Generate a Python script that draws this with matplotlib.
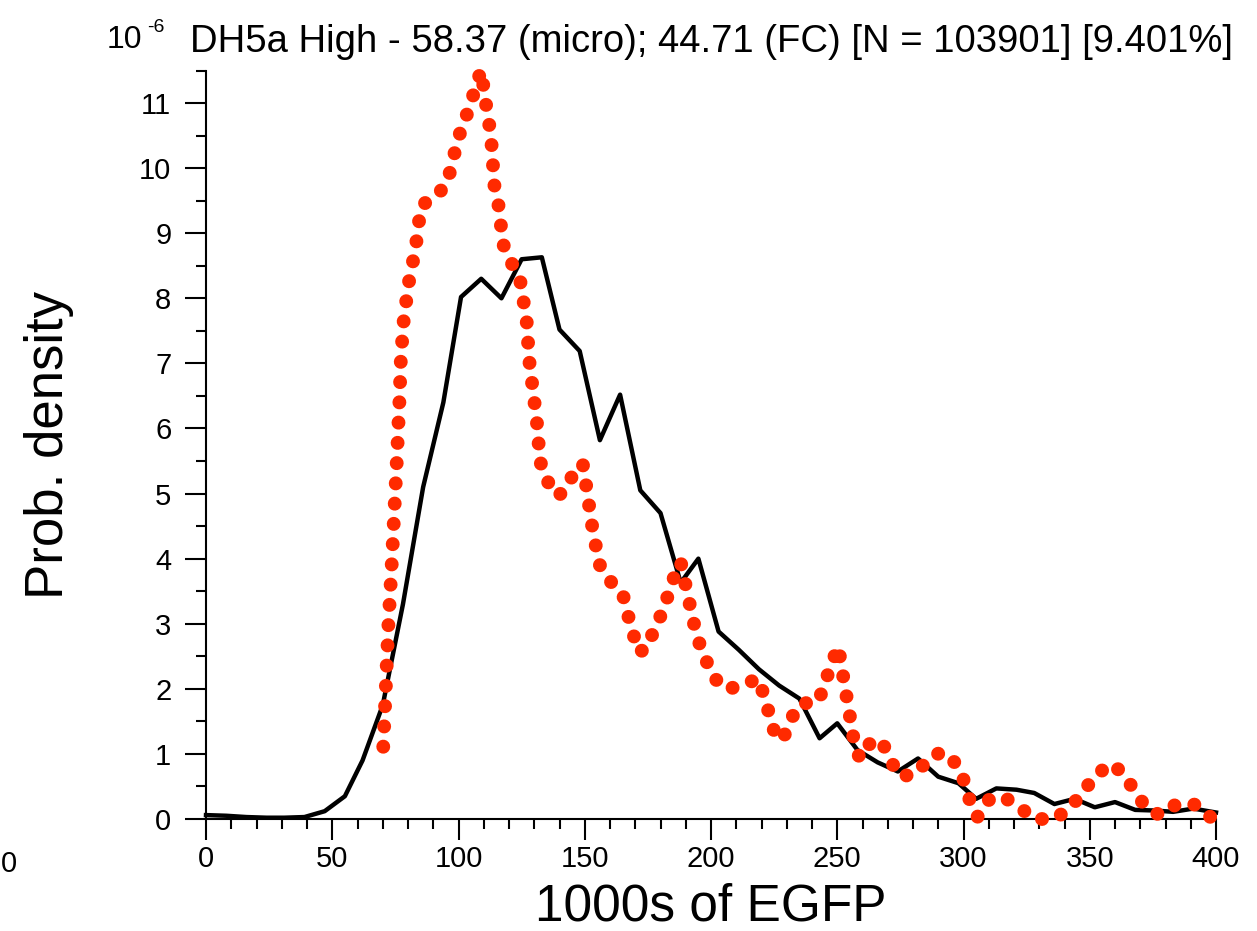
import numpy as np
import matplotlib.pyplot as plt
from matplotlib.ticker import MultipleLocator

# black line: microscope histogram (units 1e-6)
micro_x = [0, 8, 16, 24, 31, 39, 47, 55, 62, 70, 78, 86, 94, 101, 109, 117, 125, 133,
           140, 148, 156, 164, 172, 180, 188, 195, 203, 211, 219, 227, 235, 243, 250,
           258, 266, 274, 282, 290, 298, 305, 313, 321, 328, 336, 344, 352, 360, 368,
           376, 383, 391, 400]
micro_y = [0.06, 0.05, 0.03, 0.02, 0.02, 0.03, 0.12, 0.35, 0.9, 1.75, 3.3, 5.1, 6.4, 8.02,
           8.3, 8.0, 8.6, 8.63, 7.52, 7.19, 5.82, 6.52, 5.05, 4.70, 3.63, 4.0, 2.88, 2.6,
           2.3, 2.05, 1.85, 1.24, 1.47, 1.06, 0.87, 0.73, 0.93, 0.65, 0.55, 0.31, 0.47,
           0.45, 0.40, 0.23, 0.31, 0.18, 0.26, 0.14, 0.13, 0.11, 0.16, 0.10]

# red dotted line: flow cytometry density
fc_x = [70.2, 70.9, 72.2, 73.5, 75.5, 76.7, 77.1, 78.1, 80.1, 81.7, 83.2, 84.1, 85.4,
        90.7, 95.1, 97.3, 99.0, 101.3, 104.2, 106.5, 108.9, 109.8, 110.9, 112.2, 113.1,
        114.2, 115.8, 117.7, 120.8, 124.4, 125.7, 127.0, 128.0, 129.0, 131.0, 132.3,
        134.7, 139.3, 142.9, 146.1, 149.2, 150.5, 152.8, 155.7, 159.4, 165.0, 166.9,
        169.2, 170.8, 174.3, 177.2, 180.5, 183.1, 185.4, 188.0, 189.7, 193.0, 195.0,
        197.9, 201.2, 206.2, 213.5, 218.7, 221.4, 223.4, 225.7, 228.4, 231.5, 235.1,
        242.5, 245.1, 247.8, 250.4, 251.7, 254.4, 257.0, 259.0, 263.6, 267.6, 270.9,
        274.9, 281.5, 286.7, 292.0, 297.6, 300.6, 302.8, 305.5, 309.8, 315.5, 322.1,
        328.3, 336.2, 342.4, 347.4, 352.5, 358.7, 363.7, 367.9, 372.6, 377.8, 384.4,
        392.1, 398.7]
fc_y = [1.11, 1.72, 2.95, 3.87, 5.44, 6.5, 7.0, 7.59, 8.2, 8.51, 8.83, 9.12, 9.43,
        9.56, 9.74, 10.03, 10.33, 10.63, 10.91, 11.21, 11.5, 11.28, 10.98, 10.66, 10.36,
        9.74, 9.44, 8.83, 8.56, 8.28, 7.97, 7.65, 7.05, 6.74, 6.12, 5.5,
        5.22, 4.96, 5.08, 5.37, 5.46, 5.14, 4.53, 3.92, 3.68, 3.47, 3.16,
        2.86, 2.57, 2.6, 2.88, 3.16, 3.45, 3.72, 3.95, 3.64, 3.04, 2.74,
        2.45, 2.17, 1.99, 2.07, 2.16, 1.85, 1.56, 1.26, 1.22, 1.52, 1.77,
        1.8, 2.09, 2.39, 2.65, 2.34, 1.72, 1.11, 0.93, 1.2, 1.2, 0.91,
        0.65, 0.7, 0.96, 1.03, 0.83, 0.55, 0.24, 0.03, 0.29, 0.35, 0.18,
        0.0, 0.0, 0.18, 0.42, 0.68, 0.85, 0.68, 0.42, 0.16, 0.06, 0.23,
        0.22, 0.0]

title = "DH5a High - 58.37 (micro); 44.71 (FC) [N = 103901] [9.401%]"

plt.rcParams['font.family'] = ['Liberation Sans', 'DejaVu Sans']

fig = plt.figure(figsize=(12.57, 9.31), dpi=100)
ax = fig.add_axes([206 / 1257, 1 - 819 / 931, 1010 / 1257, 748.5 / 931])

ax.plot(micro_x, micro_y, color='black', linewidth=3.2, clip_on=False, zorder=3)
ax.plot(fc_x, fc_y, color='#ff2a00', linewidth=10, linestyle=(0, (0.01, 1.45)),
        dash_capstyle='round', clip_on=False, zorder=4)

ax.set_xlim(0, 400)
ax.set_ylim(0, 11.5)

ax.xaxis.set_major_locator(MultipleLocator(50))
ax.xaxis.set_minor_locator(MultipleLocator(10))
ax.yaxis.set_major_locator(MultipleLocator(1))
ax.yaxis.set_minor_locator(MultipleLocator(0.5))

ax.tick_params(which='major', direction='out', length=15, width=1.5, labelsize=21)
ax.tick_params(which='minor', direction='out', length=7, width=1.5)
ax.tick_params(axis='y', which='major', pad=10)
ax.tick_params(axis='x', which='major', pad=4)

for side in ['top', 'right']:
    ax.spines[side].set_visible(False)
for side in ['left', 'bottom']:
    ax.spines[side].set_linewidth(1.5)

ax.set_xlabel('1000s of EGFP', fontsize=37)
ax.xaxis.set_label_coords(0.5, -0.085)
ax.set_ylabel('Prob. density', fontsize=38)
ax.yaxis.set_label_coords(-0.131, 0.5)

ax.set_title(title, fontsize=27.5, pad=13)

# scale factor at top left
fig.text(107 / 1257, 1 - 48 / 931, '10', fontsize=23, ha='left', va='baseline')
fig.text(147 / 1257, 1 - 32 / 931, '-6', fontsize=14, ha='left', va='baseline')
# stray tick label at the left edge
fig.text(9 / 1257, 1 - 872 / 931, '0', fontsize=21, ha='center', va='baseline')

fig.savefig('out.png', dpi=100)
